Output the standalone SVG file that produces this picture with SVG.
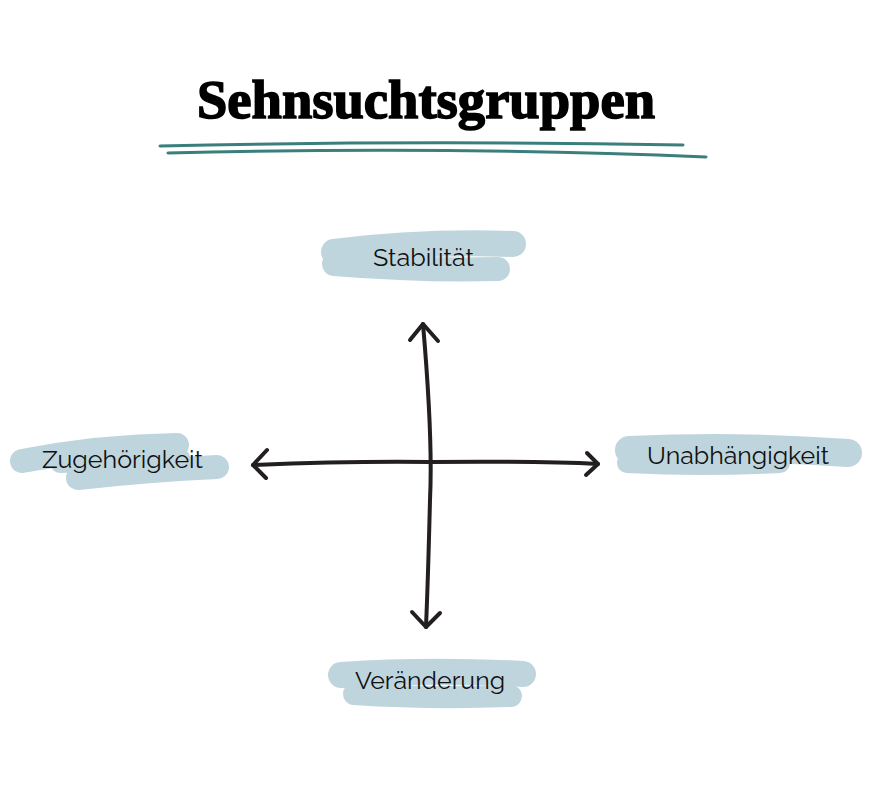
<svg xmlns="http://www.w3.org/2000/svg" width="871" height="791" viewBox="0 0 871 791">
<style>
.blob{fill:none;stroke:#bfd5dd;stroke-linecap:round;stroke-linejoin:round}
.lbl{font-family:Raleway,"Noto Sans","Open Sans",sans-serif;font-size:25px;fill:#111;text-anchor:middle}
.ax{fill:none;stroke:#231f20;stroke-width:4;stroke-linecap:round;stroke-linejoin:round}
.ul{fill:none;stroke:#3b7f7d;stroke-linecap:round}
</style>
<rect width="871" height="791" fill="#fff"/>
<g id="title">
<text x="426" y="118" font-family="'Liberation Serif','DejaVu Serif',serif" font-weight="bold" font-size="55" text-anchor="middle" fill="#000" stroke="#000" stroke-width="1.6" textLength="458" lengthAdjust="spacingAndGlyphs">Sehnsuchtsgruppen</text>
<path class="ul" stroke-width="3" d="M160 146 Q420 140 683 145"/>
<path class="ul" stroke-width="3" d="M168 153 Q450 146 706 157"/>
</g>
<g id="node-stabilitaet">
<path class="blob" stroke-width="26" d="M334 252 Q420 241 513 244"/>
<path class="blob" stroke-width="24" d="M334 264 Q420 271 498 269"/>
<text class="lbl" x="423.5" y="266" textLength="101" lengthAdjust="spacingAndGlyphs">Stabilität</text>
</g>
<g id="node-zugehoerigkeit">
<path class="blob" stroke-width="24" d="M22 461 Q100 446 177 445"/>
<path class="blob" stroke-width="24" d="M78 478 Q150 470 217 467"/>
<path class="blob" stroke-width="20" d="M60 463 L180 458"/>
<text class="lbl" x="122.5" y="468" textLength="161" lengthAdjust="spacingAndGlyphs">Zugehörigkeit</text>
</g>
<g id="node-unabhaengigkeit">
<path class="blob" stroke-width="28" d="M629 450 Q740 445 848 453"/>
<path class="blob" stroke-width="20" d="M627 463 Q700 467 780 463"/>
<text class="lbl" x="738" y="464" textLength="182" lengthAdjust="spacingAndGlyphs">Unabhängigkeit</text>
</g>
<g id="node-veraenderung">
<path class="blob" stroke-width="26" d="M341 675 Q430 669 523 674"/>
<path class="blob" stroke-width="22" d="M354 694 Q430 699 511 696"/>
<text class="lbl" x="430" y="689" textLength="150" lengthAdjust="spacingAndGlyphs">Veränderung</text>
</g>
<g id="connectors">
<path class="ax" d="M423 324 Q433 440 430 500 Q428 580 426 627"/>
<path class="ax" d="M410 340 L423 324 L438 341"/>
<path class="ax" d="M412 612 L426 627 L440 613"/>
<path class="ax" d="M253 465 Q350 461 430 462 Q540 461 598 464"/>
<path class="ax" d="M267 450 L253 465 L266 478"/>
<path class="ax" d="M587 453 L598 464 L586 475"/>
</g>
</svg>
